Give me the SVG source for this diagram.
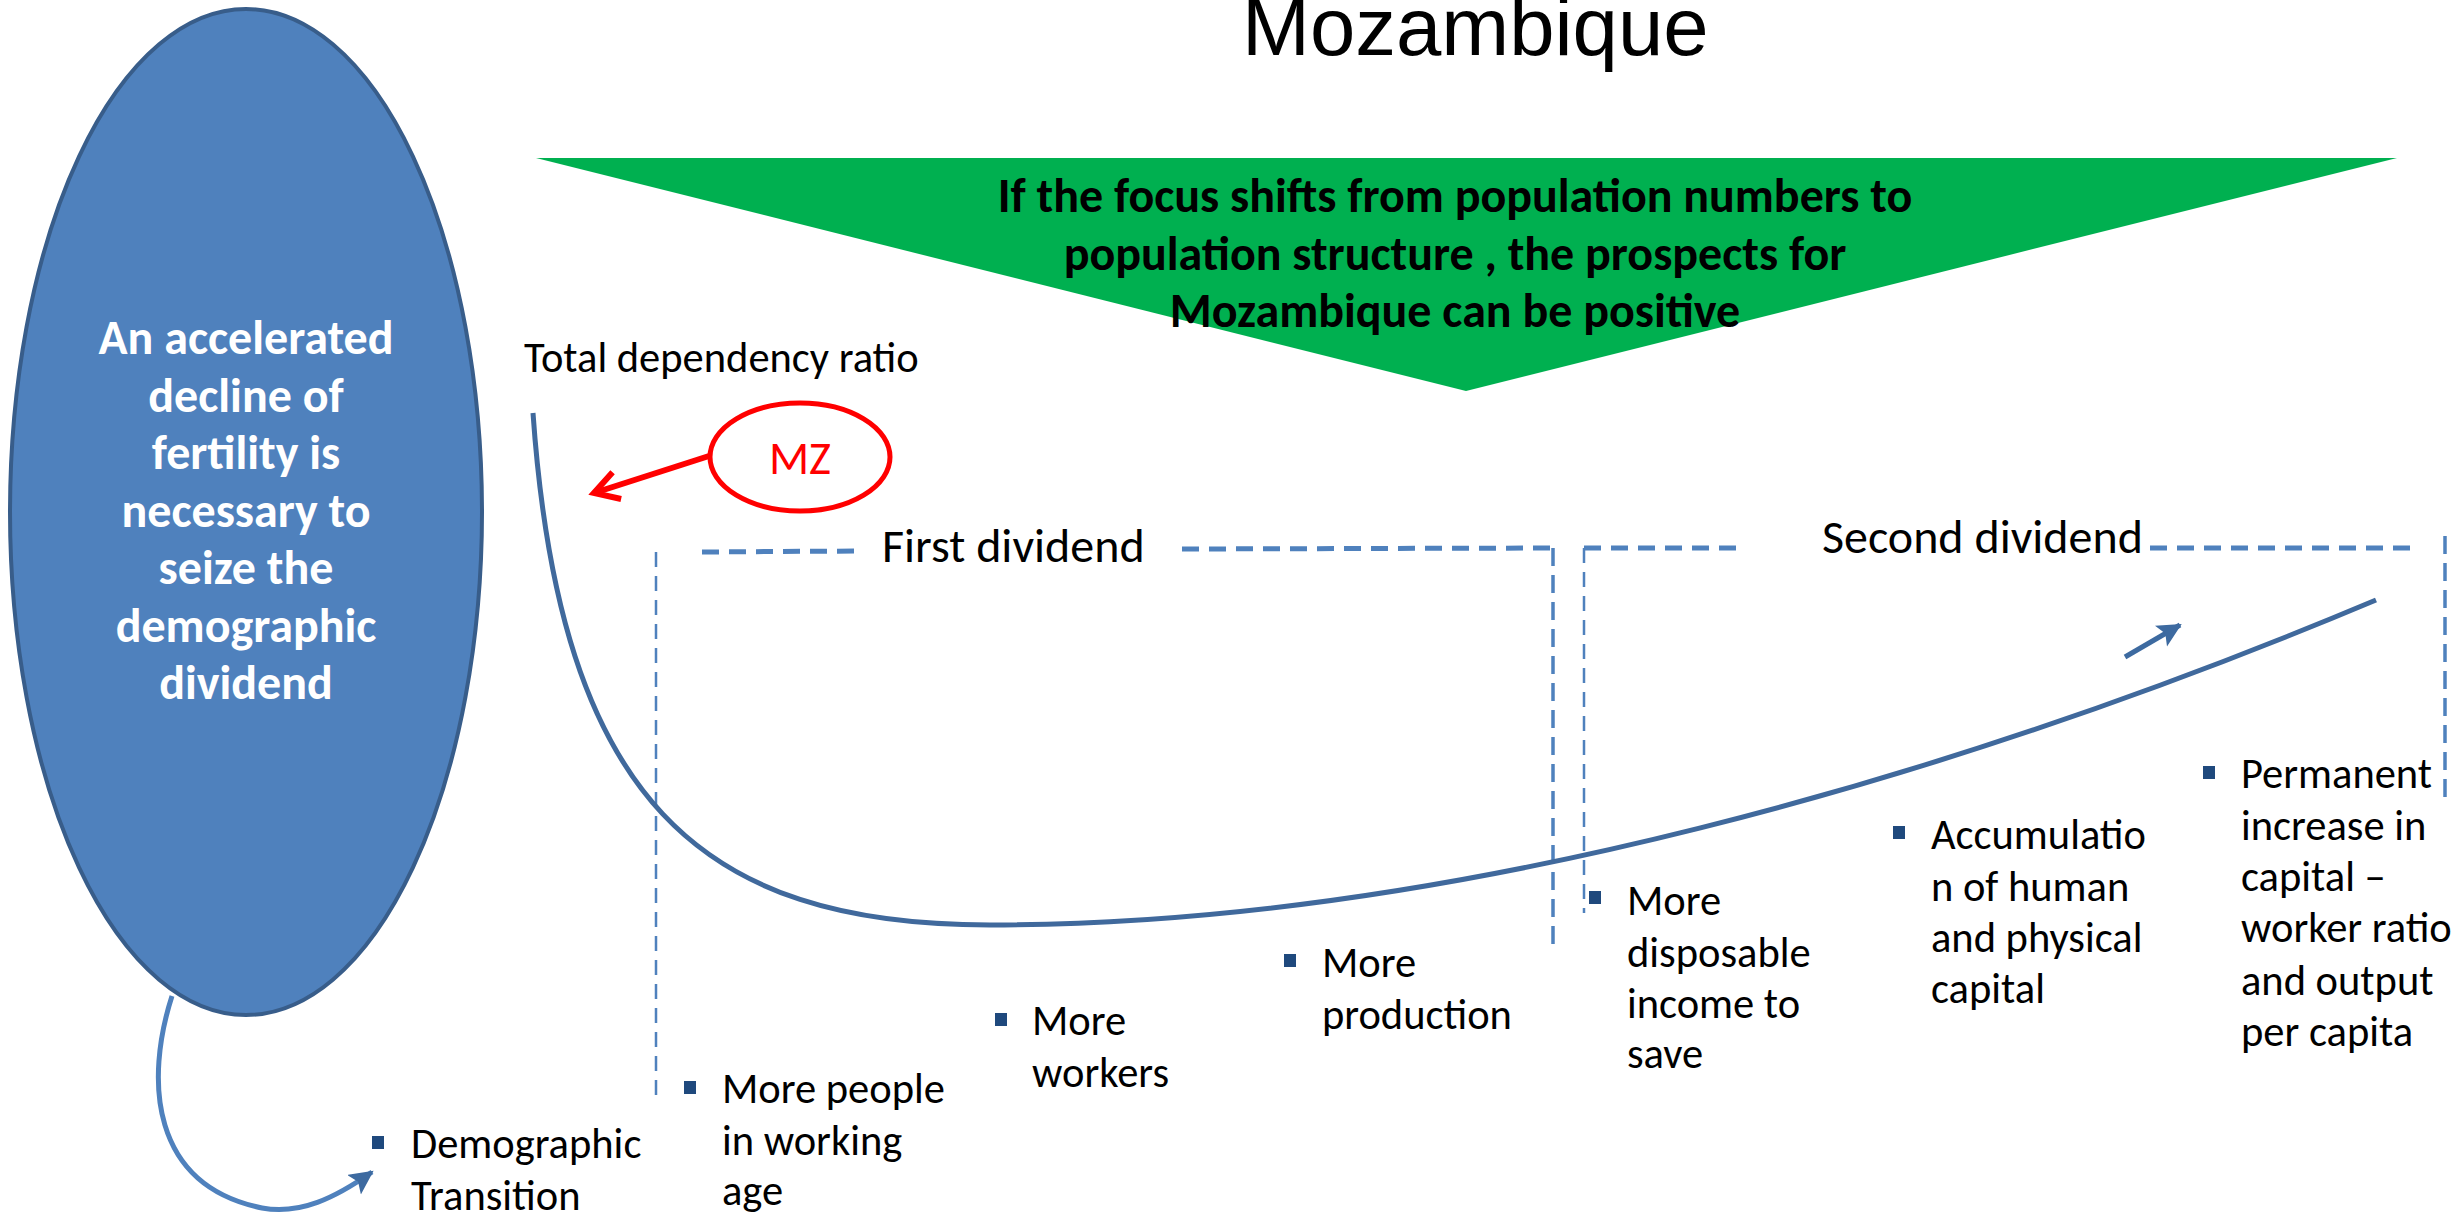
<svg xmlns="http://www.w3.org/2000/svg" width="2459" height="1215" viewBox="0 0 2459 1215">
  <style>
    .bold { font-family: Carlito, Lato, "Noto Sans", sans-serif; font-weight: bold; font-size: 48px; }
    .label { font-family: Carlito, Lato, "Noto Sans", sans-serif; font-size: 42.5px; fill: #000; }
    .big { font-family: Carlito, Lato, "Noto Sans", sans-serif; font-size: 48px; fill: #000; }
    .dash-thin { stroke: #4F81BD; stroke-width: 2.5; stroke-dasharray: 15 9; fill: none; }
    .dash-thick { stroke: #4F81BD; stroke-width: 5; stroke-dasharray: 17 10; fill: none; }
    .dash-mid { stroke: #4F81BD; stroke-width: 3.5; stroke-dasharray: 18 9; fill: none; }
    .bullet { fill: #1F497D; }
  </style>
  <defs>
    <marker id="headRed" markerUnits="userSpaceOnUse" markerWidth="40" markerHeight="40" refX="30" refY="20" orient="auto">
      <polyline points="6,6 30,20 6,34" fill="none" stroke="#FF0000" stroke-width="6"/>
    </marker>
    <marker id="headBlue" markerUnits="userSpaceOnUse" markerWidth="30" markerHeight="30" refX="22" refY="12" orient="auto">
      <polygon points="0,0 24,12 0,24 5,12" fill="#3D6AA0"/>
    </marker>
  </defs>

  <rect width="2459" height="1215" fill="#FFFFFF"/>

  <!-- title -->
  <text x="1242" y="55" font-family="'Liberation Sans', Arial, sans-serif" font-size="81.5" fill="#000">Mozambique</text>

  <!-- green banner -->
  <g id="banner">
    <polygon points="536,158 2397,158 1466,391" fill="#00B050"/>
    <text class="bold" x="1455" y="212" text-anchor="middle">If the focus shifts from population numbers to</text>
    <text class="bold" x="1455" y="270" text-anchor="middle">population structure , the prospects for</text>
    <text class="bold" x="1455" y="327" text-anchor="middle">Mozambique can be positive</text>
  </g>

  <!-- fertility ellipse -->
  <g id="fertility">
    <ellipse cx="246" cy="512" rx="236" ry="503" fill="#4F81BD" stroke="#385D8A" stroke-width="4"/>
    <g class="bold" fill="#FFFFFF" text-anchor="middle">
      <text x="246" y="354">An accelerated</text>
      <text x="246" y="411.5">decline of</text>
      <text x="246" y="469">fertility is</text>
      <text x="246" y="526.5">necessary to</text>
      <text x="246" y="584">seize the</text>
      <text x="246" y="641.5">demographic</text>
      <text x="246" y="699">dividend</text>
    </g>
  </g>

  <!-- axis label -->
  <g id="ratio-label">
    <text class="label" x="524" y="372">Total dependency ratio</text>
  </g>

  <!-- MZ marker -->
  <g id="mz">
    <ellipse cx="800" cy="457" rx="90" ry="54" fill="none" stroke="#FF0000" stroke-width="5"/>
    <text x="800" y="474" text-anchor="middle" font-family="Carlito, Lato, 'Noto Sans', sans-serif" font-size="47" fill="#FF0000">MZ</text>
  </g>

  <!-- dividend frames -->
  <g id="first-dividend">
    <line class="dash-thin" x1="656" y1="552" x2="656" y2="1099"/>
    <line class="dash-thick" x1="702" y1="552" x2="858" y2="551"/>
    <line class="dash-thick" x1="1182" y1="549" x2="1553" y2="548"/>
    <line class="dash-mid" x1="1553" y1="548" x2="1553" y2="948"/>
    <text class="big" x="882" y="562">First dividend</text>
  </g>
  <g id="second-dividend">
    <line class="dash-thin" x1="1584" y1="548" x2="1584" y2="913"/>
    <line class="dash-thick" x1="1584" y1="548" x2="1742" y2="548"/>
    <line class="dash-thick" x1="2150" y1="548" x2="2417" y2="548"/>
    <line class="dash-mid" x1="2445" y1="536" x2="2445" y2="803"/>
    <text class="big" x="1822" y="553">Second dividend</text>
  </g>

  <!-- bullet items -->
  <g id="item-transition">
    <rect class="bullet" x="372" y="1136" width="12" height="13"/>
    <text class="label" x="411" y="1158">Demographic</text>
    <text class="label" x="411" y="1210">Transition</text>
  </g>
  <g id="item-working-age">
    <rect class="bullet" x="684" y="1081" width="12" height="13"/>
    <text class="label" x="722" y="1103">More people</text>
    <text class="label" x="722" y="1155">in working</text>
    <text class="label" x="722" y="1205">age</text>
  </g>
  <g id="item-workers">
    <rect class="bullet" x="995" y="1013" width="12" height="13"/>
    <text class="label" x="1032" y="1035">More</text>
    <text class="label" x="1032" y="1087">workers</text>
  </g>
  <g id="item-production">
    <rect class="bullet" x="1284" y="954" width="12" height="13"/>
    <text class="label" x="1322" y="977">More</text>
    <text class="label" x="1322" y="1029">production</text>
  </g>
  <g id="item-savings">
    <rect class="bullet" x="1589" y="891" width="12" height="13"/>
    <text class="label" x="1627" y="915">More</text>
    <text class="label" x="1627" y="967">disposable</text>
    <text class="label" x="1627" y="1018">income to</text>
    <text class="label" x="1627" y="1068">save</text>
  </g>
  <g id="item-accumulation">
    <rect class="bullet" x="1893" y="826" width="12" height="13"/>
    <text class="label" x="1931" y="849">Accumulatio</text>
    <text class="label" x="1931" y="901">n of human</text>
    <text class="label" x="1931" y="952">and physical</text>
    <text class="label" x="1931" y="1003">capital</text>
  </g>
  <g id="item-capital">
    <rect class="bullet" x="2203" y="766" width="12" height="13"/>
    <text class="label" x="2241" y="788">Permanent</text>
    <text class="label" x="2241" y="840">increase in</text>
    <text class="label" x="2241" y="891">capital –</text>
    <text class="label" x="2241" y="942">worker ratio</text>
    <text class="label" x="2241" y="995">and output</text>
    <text class="label" x="2241" y="1046">per capita</text>
  </g>

  <!-- connectors and curves -->
  <g id="connectors">
    <!-- dependency ratio curve -->
    <path d="M 533 413 C 560 800, 700 925, 990 925 C 1450 925, 1960 775, 2376 600" fill="none" stroke="#40699C" stroke-width="5"/>
    <!-- rising trend arrow -->
    <line x1="2125" y1="657" x2="2180" y2="625" stroke="#3D6AA0" stroke-width="5" marker-end="url(#headBlue)"/>
    <!-- MZ pointer -->
    <line x1="709" y1="456" x2="594" y2="493" stroke="#FF0000" stroke-width="6" marker-end="url(#headRed)"/>
    <!-- fertility to transition -->
    <path d="M 172 996 C 145 1080, 150 1185, 262 1208 C 300 1215, 335 1198, 372 1172" fill="none" stroke="#4F81BD" stroke-width="5" marker-end="url(#headBlue)"/>
  </g>
</svg>
